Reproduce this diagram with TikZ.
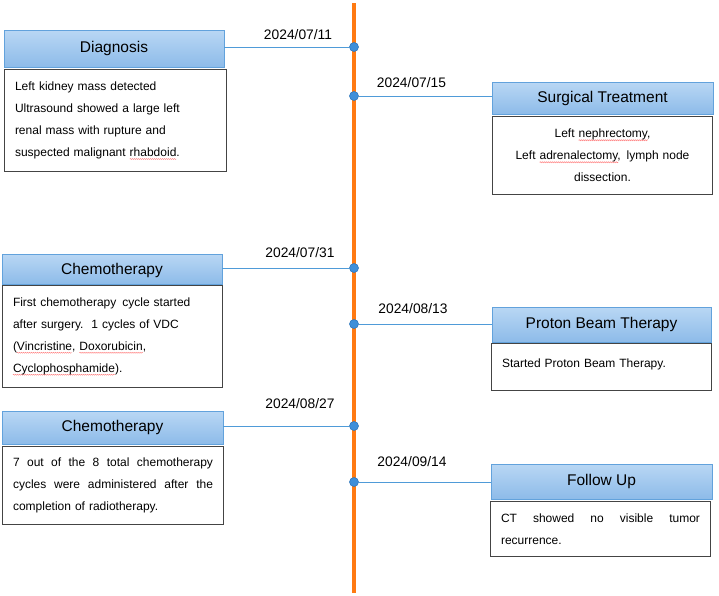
\documentclass[tikz,border=0pt]{standalone}
\usepackage{fontspec}
\setmainfont{Liberation Sans}
\usetikzlibrary{decorations.pathmorphing}
\definecolor{tlc}{HTML}{FF7A12}
\definecolor{hdrtop}{HTML}{B9D7F4}
\definecolor{hdrbot}{HTML}{8DBBE9}
\definecolor{hdrline}{HTML}{62A2DC}
\definecolor{conn}{HTML}{4F9BD8}
\definecolor{dotc}{HTML}{3F8FD9}
\definecolor{dotb}{HTML}{2F78BE}
\definecolor{bodyline}{HTML}{444444}
\newlength\sqwl
\newcommand\sqw[1]{\leavevmode\settowidth\sqwl{#1}\rlap{\tikz[overlay,baseline=0pt]\draw[red!55, fill=none, line width=0.4pt,
    decorate, decoration={snake, amplitude=0.55pt, segment length=2pt}] (0pt,-2.4pt) -- (\sqwl,-2.4pt);}#1}
\newcommand\jline[2]{\leavevmode\hbox to #1{\spaceskip=0.278em plus 1fil\relax #2}}
\begin{document}
\begin{tikzpicture}[x=1pt,y=-1pt,
  hdr/.style={draw=hdrline, line width=0.8pt, top color=hdrtop, bottom color=hdrbot,
    inner sep=0pt, font=\fontsize{15.5}{18}\selectfont},
  bodybox/.style={draw=bodyline, line width=1pt, fill=white, anchor=north west,
    inner xsep=10.5pt, inner ysep=0pt, font=\fontsize{12}{22}\selectfont},
  datelbl/.style={font=\fontsize{13.8}{16}\selectfont, inner sep=0pt},
  tdot/.style={circle, fill=dotc, draw=dotb, line width=0.6pt, inner sep=0pt, minimum size=9pt},
  link/.style={draw=conn, line width=1pt}]
\useasboundingbox (0,0) rectangle (719,595);

% timeline
\coordinate (ttop) at (354,3);
\coordinate (tbot) at (354,593);
\draw[tlc, line width=4pt] (ttop) -- (tbot);

% headers
\node[hdr, minimum width=220pt, minimum height=37pt] (h1) at (114,48.5) {Diagnosis};
\node[hdr, minimum width=221pt, minimum height=32pt] (h2) at (602.5,98) {Surgical Treatment};
\node[hdr, minimum width=220pt, minimum height=30pt, text depth=0pt] (h3) at (112,269) {Chemotherapy};
\node[hdr, minimum width=219pt, minimum height=35pt] (h4) at (601.5,324.5) {Proton Beam Therapy};
\node[hdr, minimum width=221pt, minimum height=33pt] (h5) at (112.5,427.5) {Chemotherapy};
\node[hdr, minimum width=221pt, minimum height=35pt] (h6) at (601.5,481.5) {Follow Up};

% bodies
\node[bodybox, text width=201pt, minimum height=102pt, align=left] (b1) at (4,69)
  {Left kidney mass detected\\Ultrasound showed a large left\\renal mass with rupture and\\suspected malignant \sqw{rhabdoid}.};
\node[bodybox, text width=199pt, minimum height=78pt, align=center] (b2) at (492,116)
  {Left \sqw{nephrectomy},\\Left \sqw{adrenalectomy}, \,lymph node\\dissection.};
\node[bodybox, text width=199pt, minimum height=102.5pt, align=left] (b3) at (2,284.5)
  {First chemotherapy \,cycle started\\after surgery. \,1 cycles of VDC\\(\sqw{Vincristine}, \sqw{Doxorubicin},\\\sqw{Cyclophosphamide}).};
\node[bodybox, text width=199pt, minimum height=47pt, align=left, text height=10pt, text depth=10pt] (b4) at (491,343)
  {Started Proton Beam Therapy.};
\node[bodybox, text width=200pt, minimum height=78pt, align=left] (b5) at (2,446)
  {\jline{200pt}{7 out of the 8 total chemotherapy}\\\jline{200pt}{cycles were administered after the}\\completion of radiotherapy.};
\node[bodybox, text width=199pt, minimum height=55pt, align=left] (b6) at (490,501)
  {\jline{199pt}{CT showed no visible tumor}\\recurrence.};

% dots
\node[tdot] (d1) at (354,47) {};
\node[tdot] (d2) at (354,96) {};
\node[tdot] (d3) at (354,268) {};
\node[tdot] (d4) at (354,324) {};
\node[tdot] (d5) at (354,426) {};
\node[tdot] (d6) at (354,482) {};

% connectors
\draw[link] (h1.east |- d1) -- (d1.west);
\draw[link] (d2.east) -- (h2.west |- d2);
\draw[link] (h3.east |- d3) -- (d3.west);
\draw[link] (d4.east) -- (h4.west |- d4);
\draw[link] (h5.east |- d5) -- (d5.west);
\draw[link] (d6.east) -- (h6.west |- d6);

% dates
\node[datelbl] (t1) at (298,35) {2024/07/11};
\node[datelbl] (t2) at (411.5,83) {2024/07/15};
\node[datelbl] (t3) at (300,253) {2024/07/31};
\node[datelbl] (t4) at (413,309) {2024/08/13};
\node[datelbl] (t5) at (300,404) {2024/08/27};
\node[datelbl] (t6) at (412,462) {2024/09/14};
\end{tikzpicture}
\end{document}
